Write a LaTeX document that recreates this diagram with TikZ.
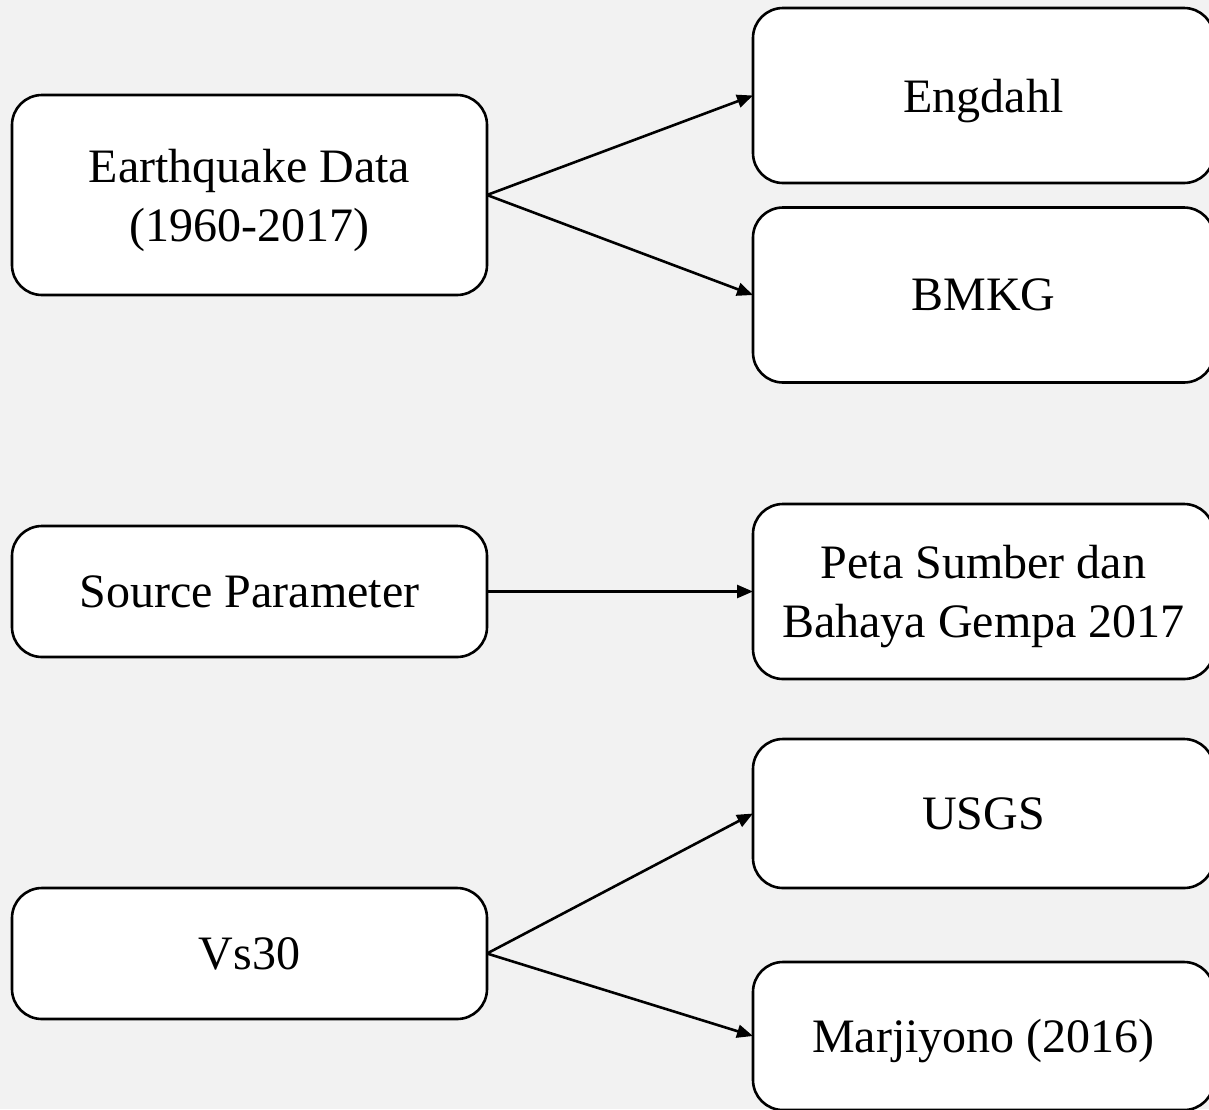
\documentclass[tikz,border=0pt]{standalone}
\usepackage{fontspec}
\setmainfont{Liberation Serif}
\usetikzlibrary{arrows.meta}
\definecolor{bgcol}{HTML}{F2F2F2}
\begin{document}
\begin{tikzpicture}[x=1pt,y=-1pt,
  box/.style={draw=black, fill=white, line width=2.6pt, rounded corners=30pt,
    inner sep=0pt, outer sep=0pt, align=center, text depth=0pt,
    font=\fontsize{48}{59}\selectfont},
  lbox/.style={box, minimum width=475pt},
  rbox/.style={box, minimum width=461pt},
  conn/.style={draw=black, line width=2.6pt,
    -{Triangle[length=16pt,width=13pt]}}]
\fill[bgcol] (0,0) rectangle (1209,1109);
\useasboundingbox (0,0) rectangle (1209,1109);
\node[lbox, minimum height=200pt] (eq) at (249.5,195) {Earthquake Data\\(1960-2017)};
\node[lbox, minimum height=131pt] (src) at (249.5,591.5) {Source Parameter};
\node[lbox, minimum height=131pt] (vs) at (249.5,953.5) {Vs30};
\node[rbox, minimum height=175pt] (eng) at (983.5,95.5) {Engdahl};
\node[rbox, minimum height=175pt] (bmkg) at (983.5,295) {BMKG};
\node[rbox, minimum height=175pt] (peta) at (983.5,591.5) {Peta Sumber dan\\Bahaya Gempa 2017};
\node[rbox, minimum height=149pt] (usgs) at (983.5,813.5) {USGS};
\node[rbox, minimum height=148pt] (marj) at (983.5,1036) {Marjiyono (2016)};
\draw[conn] (eq.east) -- (eng.west);
\draw[conn] (eq.east) -- (bmkg.west);
\draw[conn] (src.east) -- (peta.west);
\draw[conn] (vs.east) -- (usgs.west);
\draw[conn] (vs.east) -- (marj.west);
\end{tikzpicture}
\end{document}
